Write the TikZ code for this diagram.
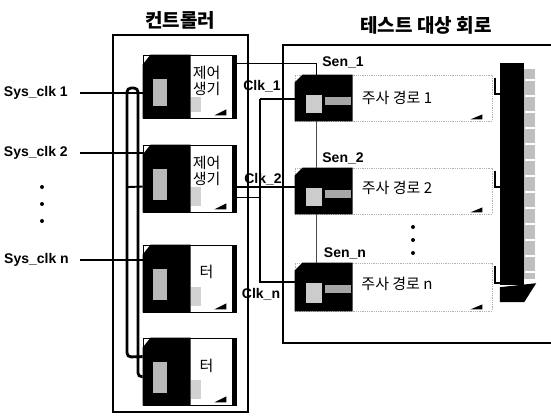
\documentclass[tikz,border=0pt]{standalone}
\usepackage{fontspec}
\setmainfont{Liberation Sans}
\newfontfamily\kr{Noto Sans CJK KR}
\usetikzlibrary{calc}
\tikzset{
  lat/.style={font=\bfseries\fontsize{14}{14}\selectfont, inner sep=0pt},
  ttl/.style={font=\kr\bfseries\fontsize{19}{19}\selectfont, inner sep=0pt},
  krl/.style={font=\kr\fontsize{15}{15}\selectfont, inner sep=0pt},
  wire/.style={line width=1.1pt},
  thickwire/.style={line width=1.9pt},
  bus/.style={line width=2.8pt},
  cblk/.style={draw, line width=0.8pt, fill=white, inner sep=0pt, minimum width=93pt, minimum height=#1},
  pblk/.style={draw=gray!60, densely dotted, line width=0.8pt, fill=white, inner sep=0pt, minimum width=197pt, minimum height=#1},
}
\newcommand\cdecor[1]{%
  \fill ($(#1.north west)+(0,10)$) -- ($(#1.north west)+(8,0)$) -- ($(#1.north west)+(48,0)$) -- ($(#1.south west)+(48,0)$) -- (#1.south west) -- cycle;
  \fill[gray!55] ($(#1.north west)+(10,24)$) rectangle ($(#1.south west)+(24,-12)$);
  \fill[gray!35] ($(#1.north west)+(48,42)$) rectangle ($(#1.south west)+(58,-6)$);
  \fill ($(#1.north east)+(-4,0)$) rectangle (#1.south east);
  \fill ($(#1.south east)+(-22,-3)$) -- ($(#1.south east)+(-10,-9)$) -- ($(#1.south east)+(-10,-3)$) -- cycle;
}
\newcommand\pdecor[1]{%
  \fill (#1.south west) -- ($(#1.north west)+(0,8)$) -- ($(#1.north west)+(8,0)$) -- ($(#1.north west)+(58,0)$) -- ($(#1.south west)+(58,0)$) -- cycle;
  \fill[gray!40] ($(#1.north west)+(11,20)$) rectangle ($(#1.south west)+(27,-8)$);
  \fill[gray!70] ($(#1.north west)+(30,22)$) rectangle ($(#1.north west)+(56,30)$);
  \fill ($(#1.south east)+(-22,-2)$) -- ($(#1.south east)+(-10,-7)$) -- ($(#1.south east)+(-10,-2)$) -- cycle;
}
\begin{document}
\begin{tikzpicture}[x=1pt,y=-1pt]
\fill[white] (0,0) rectangle (551,415);
\useasboundingbox (0,0) rectangle (551,415);

% titles
\node[ttl] (tc) at (180,20) {컨트롤러};
\node[ttl] (tt) at (426,25) {테스트 대상 회로};

% frames
\node[draw, line width=1.3pt, inner sep=0pt, minimum width=135pt, minimum height=377pt] (ctrl) at (180.5,223.5) {};
\coordinate (tbA) at (556,45);
\coordinate (tbB) at (556,343);
\draw[line width=1.4pt] (tbA) -| (283,343) -- (tbB);

% controller blocks
\node[cblk=63pt] (g1) at (189.5,86.5) {};
\node[cblk=67pt] (g2) at (189.5,178.5) {};
\node[cblk=67pt] (g3) at (189.5,278.5) {};
\node[cblk=67pt] (g4) at (189.5,371.5) {};
\cdecor{g1}\cdecor{g2}\cdecor{g3}\cdecor{g4}
\node[krl] (g1a) at ($(g1.north west)+(64,18)$) {제어};
\node[krl] (g1b) at ($(g1.north west)+(64,34)$) {생기};
\node[krl] (g2a) at ($(g2.north west)+(64,18)$) {제어};
\node[krl] (g2b) at ($(g2.north west)+(64,34)$) {생기};
\node[krl] (g3a) at ($(g3.north west)+(64,27)$) {터};
\node[krl] (g4a) at ($(g4.north west)+(64,28)$) {터};

% input labels
\node[lat, anchor=east] (sc1) at (68,93) {Sys\_clk 1};
\node[lat, anchor=east] (sc2) at (68,153) {Sys\_clk 2};
\node[lat, anchor=east] (scn) at (69,260) {Sys\_clk n};
\fill (42,187) circle (2pt);
\fill (42,204) circle (2pt);
\fill (42,221) circle (2pt);

% bus in controller
\coordinate (bA) at ($(g4.north west)+(0,19)$);
\coordinate (bB) at ($(g4.north west)+(0,39)$);
\draw[bus, rounded corners=4pt] (bA) -- (127,357) -- (127,88) -- (138,88) -- (138,377) -- (bB);
\draw[thickwire] (127,187) -- ($(g2.north west)+(0,42)$);
\draw[line width=1.6pt] ([xshift=12pt]sc1.east) -- (sc1.east -| g1.west);
\draw[line width=1.6pt] ([xshift=12pt]sc2.east) -- (sc2.east -| g2.west);
\draw[line width=1.6pt] ([xshift=11pt]scn.east) -- (scn.east -| g3.west);

% test circuit paths
\node[pblk=46pt] (p1) at (393.5,98) {};
\node[pblk=46pt] (p2) at (393.5,191) {};
\node[pblk=48pt] (pn) at (393.5,287) {};
\pdecor{p1}\pdecor{p2}\pdecor{pn}
\node[krl] (l1) at (397,98) {주사 경로 1};
\node[krl] (l2) at (397,188) {주사 경로 2};
\node[krl] (ln) at (397,284) {주사 경로 n};
\fill (413,227) circle (2pt);
\fill (413,240) circle (2pt);
\fill (413,253) circle (2pt);

% right column
\node[fill=black, inner sep=0pt, minimum width=24pt, minimum height=222pt] (col) at (512,174) {};
\fill[gray!50] ($(col.north east)+(0,6)$) rectangle ($(col.south east)+(11,-6)$);
\foreach \yy in {80,96,112,128,144,160,176,192,208,224,240,256,272}
  \draw[white, line width=1.2pt] (525,\yy) -- (537,\yy);
\fill ($(col.south west)+(0,2)$) -- ($(col.south east)+(12,-2)$) -- ($(col.south east)+(0,17)$) -- ($(col.south west)+(0,17)$) -- cycle;

% brackets from paths to column
\foreach \p in {p1,p2,pn}{
  \coordinate (\p t) at ($(\p.north east)+(3,3)$);
  \coordinate (\p b) at ($(\p.east)+(3,-4)$);
  \draw[thickwire] (\p t) -- (\p b) -- (\p b -| col.west);
}

% Sen wires
\coordinate (s1k) at ($(p1.north west)+(22,0)$);
\draw[wire] ($(g1.north east)+(0,9)$) -| (s1k);
\draw[wire, gray!60!black] ($(p1.south west)+(22,0)$) -- ($(p2.north west)+(22,0)$);
\draw[wire, gray!60!black] ($(p2.south west)+(22,0)$) -- ($(pn.north west)+(22,0)$);
\node[lat] (sn1) at (343,62) {Sen\_1};
\node[lat] (sn2) at (343,158) {Sen\_2};
\node[lat] (snn) at (345,253) {Sen\_n};

% Clk wires
\coordinate (c1) at (260,99);
\coordinate (kn) at ($(pn.west)+(0,-5)$);
\draw[thickwire] (c1) -- (c1 -| p1.west);
\draw[thickwire] (c1) |- (kn);
\coordinate (k2) at ($(g2.north east)+(0,42)$);
\draw[thickwire] (k2) -- (k2 -| p2.west);
\coordinate (k2b) at ($(g2.north east)+(0,53)$);
\draw[wire] (k2b) -- (k2b -| c1);
\node[lat] (ck1) at (262,86) {Clk\_1};
\node[lat] (ck2) at (263,179) {Clk\_2};
\node[lat] (ckn) at (261,294) {Clk\_n};
\end{tikzpicture}
\end{document}
